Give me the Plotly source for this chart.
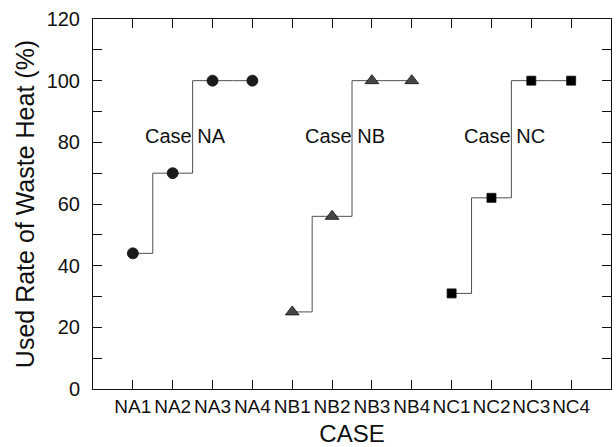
import plotly.graph_objects as go

cases = ["NA1", "NA2", "NA3", "NA4", "NB1", "NB2", "NB3", "NB4", "NC1", "NC2", "NC3", "NC4"]
na_cases = cases[0:4]
nb_cases = cases[4:8]
nc_cases = cases[8:12]
na_values = [44, 70, 100, 100]
nb_values = [25, 56, 100, 100]
nc_values = [31, 62, 100, 100]
group_labels = ["Case NA", "Case NB", "Case NC"]

FONT = "Liberation Sans, Arial, sans-serif"

fig = go.Figure()

series = [
    (na_cases, na_values, "circle", 11, "#1a1a1a"),
    (nb_cases, nb_values, "triangle-up", 12, "#454545"),
    (nc_cases, nc_values, "square", 9, "#000000"),
]
for xs, ys, sym, sz, col in series:
    fig.add_trace(go.Scatter(
        x=xs, y=ys, mode="lines",
        line=dict(shape="hvh", color="#505050", width=1),
        showlegend=False, hoverinfo="skip"))
    fig.add_trace(go.Scatter(
        x=xs, y=ys, mode="markers",
        marker=dict(symbol=sym, size=sz, color=col, line=dict(color="#111111", width=0.8)),
        showlegend=False))

for i, lab in enumerate(group_labels):
    fig.add_annotation(x=4 * i + 1.33, y=82, text=lab, showarrow=False,
                       font=dict(family=FONT, size=20, color="#111111"),
                       xanchor="center", yanchor="middle")

fig.update_layout(
    width=616, height=447,
    margin=dict(l=93, r=5, t=19, b=58),
    paper_bgcolor="white", plot_bgcolor="white",
    font=dict(family=FONT, color="#111111"),
)
fig.update_xaxes(
    type="category", categoryorder="array", categoryarray=cases,
    range=[-1, 12], automargin=False,
    showline=True, linecolor="#111111", linewidth=1, mirror="allticks",
    ticks="inside", ticklen=9, tickcolor="#111111", tickwidth=1,
    tickangle=0,
    showgrid=False, zeroline=False,
    tickfont=dict(family=FONT, size=19),
    title=dict(text="CASE", font=dict(family=FONT, size=24), standoff=13),
)
fig.update_yaxes(
    range=[0, 120], dtick=20, automargin=False,
    showline=True, linecolor="#111111", linewidth=1, mirror="allticks",
    ticks="inside", ticklen=9, tickcolor="#111111", tickwidth=1,
    ticklabelstandoff=8,
    minor=dict(dtick=10, ticks="inside", ticklen=9, tickcolor="#111111", tickwidth=1, showgrid=False),
    showgrid=False, zeroline=False,
    tickfont=dict(family=FONT, size=20),
    title=dict(text="Used Rate of Waste Heat (%)", font=dict(family=FONT, size=25), standoff=4),
)

fig.write_html("out.html")
